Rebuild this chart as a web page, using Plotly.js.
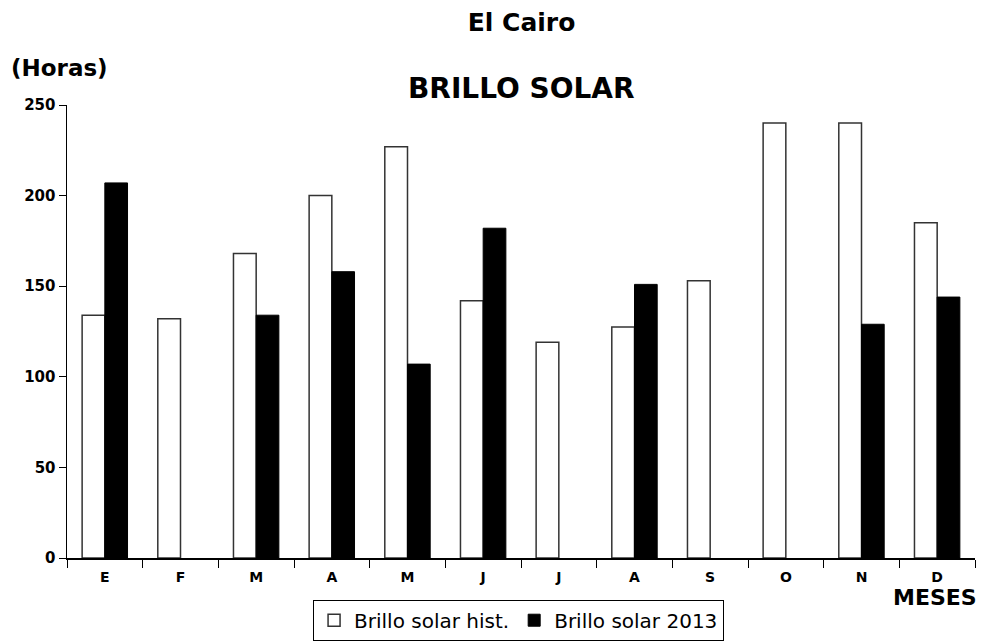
<!DOCTYPE html>
<html>
<head>
<meta charset="utf-8">
<script src="https://cdn.plot.ly/plotly-3.0.1.min.js"></script>
<style>html,body{margin:0;padding:0;background:#fff;}#chart{width:984px;height:642px;}</style>
</head>
<body>
<div id="chart"></div>
<script>
const months = ["E","F","M","A","M ","J","J ","A ","S","O","N","D"];
const monthLabels = ["E","F","M","A","M","J","J","A","S","O","N","D"];
const histValues = [134, 132, 168, 200, 227, 142, 119, 127.5, 153, 240, 240, 185];
const values2013 = [207, null, 134, 158, 107, 182, null, 151, null, null, 129, 144];
const seriesNames = ["Brillo solar hist.", "Brillo solar 2013"];
const yTicks = [0, 50, 100, 150, 200, 250];

const font = "DejaVu Sans, Liberation Sans, Arial, sans-serif";

const traces = [
  {type: "bar", x: months, y: histValues, name: seriesNames[0],
   marker: {color: "#ffffff", line: {color: "#333333", width: 1.5}}},
  {type: "bar", x: months, y: values2013, name: seriesNames[1],
   marker: {color: "#000000", line: {color: "#000000", width: 1}}}
];

const layout = {
  width: 984, height: 642,
  margin: {l: 67, r: 9, t: 105, b: 84},
  paper_bgcolor: "#fff", plot_bgcolor: "#fff",
  barmode: "group", bargap: 0.4, bargroupgap: 0,
  title: {text: "El Cairo", font: {family: font, size: 25, weight: "bold", color: "#000"},
          x: 0.53, xanchor: "center", y: 0.966, yanchor: "middle", yref: "container"},
  showlegend: true,
  legend: {orientation: "h", x: 0.527, xref: "container", xanchor: "center", y: 0.002, yref: "container", yanchor: "bottom",
           bordercolor: "#000", borderwidth: 1, font: {family: font, size: 20, color: "#000"},
           itemwidth: 30, tracegroupgap: 0, traceorder: "normal"},
  xaxis: {type: "category", tickvals: months, ticktext: monthLabels, tickson: "boundaries",
          ticks: "outside", ticklen: 8, tickcolor: "#000", tickwidth: 1, ticklabelstandoff: 6,
          showline: true, linecolor: "#000", linewidth: 1.5, showgrid: false, zeroline: false,
          tickfont: {family: font, size: 14, weight: "bold", color: "#000"}, fixedrange: true},
  yaxis: {range: [0, 250], tickvals: yTicks, ticks: "outside", ticklen: 7, tickcolor: "#000",
          showline: true, linecolor: "#000", linewidth: 1.5, showgrid: false, zeroline: false,
          tickfont: {family: font, size: 15, weight: "bold", color: "#000"}, fixedrange: true},
  annotations: [
    {text: "BRILLO SOLAR", xref: "paper", yref: "paper", x: 0.5, y: 1.0375, xanchor: "center", yanchor: "middle",
     showarrow: false, font: {family: font, size: 28, weight: "bold", color: "#000"}},
    {text: "(Horas)", xref: "paper", yref: "paper", x: -0.064, y: 1.0817, xanchor: "left", yanchor: "middle",
     showarrow: false, font: {family: font, size: 23, weight: "bold", color: "#000"}},
    {text: "MESES", xref: "paper", yref: "paper", x: 1.004, y: -0.087, xanchor: "right", yanchor: "middle",
     showarrow: false, font: {family: font, size: 22, weight: "bold", color: "#000"}}
  ]
};

Plotly.newPlot("chart", traces, layout, {displayModeBar: false, staticPlot: true});
</script>
</body>
</html>
